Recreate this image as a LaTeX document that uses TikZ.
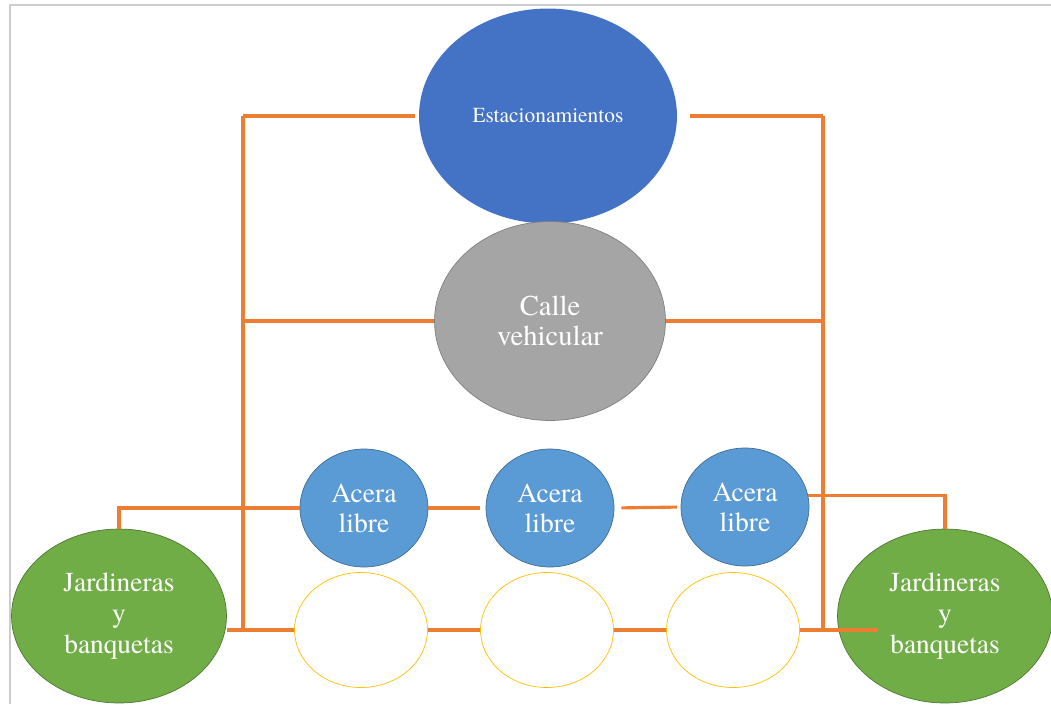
\documentclass[tikz,border=0pt]{standalone}
\usepackage{fontspec}
\setmainfont{texgyretermes-regular.otf}
\usetikzlibrary{shapes.geometric}
\definecolor{bleufonce}{HTML}{4472C4}
\definecolor{bleuclair}{HTML}{5B9BD5}
\definecolor{grisnoeud}{HTML}{A5A5A5}
\definecolor{vertnoeud}{HTML}{70AD47}
\definecolor{orangelien}{HTML}{ED7D31}
\definecolor{jaunenoeud}{HTML}{FFC000}
\begin{document}
\begin{tikzpicture}[x=0.02cm, y=-0.02cm]
\tikzset{noeud/.style={ellipse, inner sep=0pt, align=center, text=white},
lien/.style={draw=orangelien, line width=1.8pt},
acera/.style={noeud, fill=bleuclair, draw=bleuclair!70!black, minimum width=2.56cm, minimum height=2.36cm, font=\fontsize{15.7}{17}\selectfont},
vide/.style={noeud, draw=jaunenoeud, fill=white, minimum width=2.66cm, minimum height=2.3cm},
jardin/.style={noeud, fill=vertnoeud, draw=vertnoeud!70!black, minimum width=4.3cm, minimum height=3.48cm, font=\fontsize{15.6}{17.6}\selectfont}}
\useasboundingbox (0,0) rectangle (1051,704);
\draw[black!20, line width=0.8pt] (10,704) -- (10,5) -- (1051,5);
\node[noeud, fill=bleufonce, minimum width=5.16cm, minimum height=4.3cm, font=\fontsize{12.2}{14}\selectfont] (est) at (548,116) {Estacionamientos};
\node[noeud, fill=grisnoeud, draw=black!50, minimum width=4.62cm, minimum height=3.98cm, font=\fontsize{16.3}{17}\selectfont] (calle) at (550,321) {Calle\\vehicular};
\node[acera] (ac1) at (364,508) {Acera\\libre};
\node[acera] (ac2) at (550,508) {Acera\\libre};
\node[acera] (ac3) at (745,507) {Acera\\libre};
\node[vide] (vi1) at (361,630) {};
\node[vide] (vi2) at (547,630) {};
\node[vide] (vi3) at (733,630) {};
\node[jardin] (jarg) at (119,616) {Jardineras\\y\\banquetas};
\node[jardin] (jard) at (945,616) {Jardineras\\y\\banquetas};
\coordinate (hg) at (243,116);
\coordinate (bg) at (243,630);
\coordinate (hd) at (823,116);
\coordinate (bd) at (823,630);
\coordinate (mg) at (243,321);
\coordinate (md) at (823,321);
\coordinate (fin) at (878,630);
\draw[lien] (hg) -- (bg);
\draw[lien] (hd) -- (bd);
\draw[lien, shorten >=2pt] (hg) -- (est.west);
\draw[lien, shorten <=7pt] (est.east) -- (hd);
\draw[lien] (mg) -- (calle.west);
\draw[lien] (calle.east) -- (md);
\draw[lien] (jarg.north) |- (ac1.west);
\draw[lien, shorten >=3pt] (ac1.east) -- (ac2.west);
\draw[lien, shorten <=4pt, shorten >=2pt] (ac2.east) -- (ac3.west);
\draw[lien] (ac3.10) -| (jard.north);
\draw[lien] (jarg.east |- bg) -- (vi1.west);
\draw[lien] (vi1.east) -- (vi2.west);
\draw[lien] (vi2.east) -- (vi3.west);
\draw[lien] (vi3.east) -- (fin);
\end{tikzpicture}
\end{document}
